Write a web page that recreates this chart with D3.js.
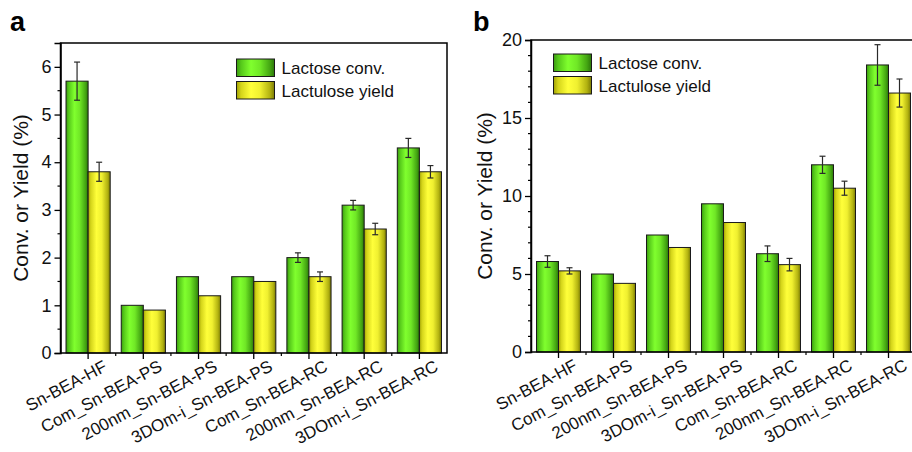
<!DOCTYPE html>
<html>
<head>
<meta charset="utf-8">
<script src="https://cdn.jsdelivr.net/npm/d3@7/dist/d3.min.js"></script>
<style>
  html, body { margin: 0; padding: 0; background: #fff; }
  svg { display: block; font-family: "Liberation Sans", Arial, sans-serif; }
</style>
</head>
<body>
<svg id="chart" width="912" height="452"></svg>
<script>
// Catalysts on the x axis (shared by both panels)
const categories = [
  "Sn-BEA-HF", "Com_Sn-BEA-PS", "200nm_Sn-BEA-PS", "3DOm-i_Sn-BEA-PS",
  "Com_Sn-BEA-RC", "200nm_Sn-BEA-RC", "3DOm-i_Sn-BEA-RC"
];
const seriesNames = ["Lactose conv.", "Lactulose yield"];

// Panel a values (%)
const convA = [5.7, 1.0, 1.6, 1.6, 2.0, 3.1, 4.3];
const yieldA = [3.8, 0.9, 1.2, 1.5, 1.6, 2.6, 3.8];
const convAErr = [0.4, 0, 0, 0, 0.1, 0.1, 0.2];
const yieldAErr = [0.2, 0, 0, 0, 0.1, 0.12, 0.13];
const yTicksA = [0, 1, 2, 3, 4, 5, 6];

// Panel b values (%)
const convB = [5.8, 5.0, 7.5, 9.5, 6.3, 12.0, 18.4];
const yieldB = [5.2, 4.4, 6.7, 8.3, 5.6, 10.5, 16.6];
const convBErr = [0.37, 0, 0, 0, 0.5, 0.55, 1.3];
const yieldBErr = [0.2, 0, 0, 0, 0.4, 0.45, 0.9];
const yTicksB = [0, 5, 10, 15, 20];

const svg = d3.select("#chart");
const defs = svg.append("defs");

// Horizontal shaded fills for the bars
function addGradient(id, stops) {
  const g = defs.append("linearGradient").attr("id", id)
    .attr("x1", "0%").attr("x2", "100%").attr("y1", "0%").attr("y2", "0%");
  stops.forEach(s => g.append("stop").attr("offset", s[0]).attr("stop-color", s[1]));
}
addGradient("gGreen", [["0%", "#3a9a10"], ["12%", "#55c81a"], ["38%", "#80ff2e"], ["62%", "#70e826"], ["88%", "#44a612"], ["100%", "#2c760a"]]);
addGradient("gYellow", [["0%", "#a0a004"], ["12%", "#d4d41a"], ["38%", "#ffff3a"], ["62%", "#f0f030"], ["88%", "#b2b210"], ["100%", "#7a7a04"]]);
const fills = ["url(#gGreen)", "url(#gYellow)"];

function drawPanel(opt) {
  const g = svg.append("g");
  const x = d3.scaleBand().domain(categories)
    .range([opt.left, opt.right]).paddingInner(0.2).paddingOuter(0.1);
  const xs = d3.scaleBand().domain(seriesNames).range([0, x.bandwidth()]);
  const y = d3.scaleLinear().domain(opt.yDomain).range([opt.bottom, opt.top]);
  const step = x.step();

  // bars
  const values = [opt.conv, opt.yld];
  const errs = [opt.convErr, opt.yldErr];
  seriesNames.forEach((s, si) => {
    g.append("g").selectAll("rect").data(categories).join("rect")
      .attr("x", d => x(d) + xs(s))
      .attr("y", (d, i) => y(values[si][i]))
      .attr("width", xs.bandwidth())
      .attr("height", (d, i) => y(0) - y(values[si][i]))
      .attr("fill", fills[si])
      .attr("stroke", "#1a1a1a").attr("stroke-width", 1);
  });

  // error bars
  seriesNames.forEach((s, si) => {
    categories.forEach((c, i) => {
      const e = errs[si][i];
      if (!e) return;
      const cx = x(c) + xs(s) + xs.bandwidth() / 2;
      const v = values[si][i];
      const eg = g.append("g").attr("stroke", "#2a2a2a").attr("stroke-width", 1.2);
      eg.append("line").attr("x1", cx).attr("x2", cx).attr("y1", y(v + e)).attr("y2", y(v - e));
      eg.append("line").attr("x1", cx - 3).attr("x2", cx + 3).attr("y1", y(v + e)).attr("y2", y(v + e));
      eg.append("line").attr("x1", cx - 3).attr("x2", cx + 3).attr("y1", y(v - e)).attr("y2", y(v - e));
    });
  });

  // frame
  g.append("rect").attr("x", opt.left).attr("y", opt.top)
    .attr("width", opt.right - opt.left).attr("height", opt.bottom - opt.top)
    .attr("fill", "none").attr("stroke", "#000").attr("stroke-width", 1.5);

  // y axis
  const yAxis = d3.axisLeft(y).tickValues(opt.yTicks).tickSize(6).tickPadding(3).tickFormat(d3.format("d"));
  const ya = g.append("g").attr("transform", `translate(${opt.left},0)`).call(yAxis);
  ya.select(".domain").attr("stroke-width", 1.5);
  ya.selectAll(".tick line").attr("stroke-width", 1.3);
  ya.selectAll(".tick text").attr("font-size", 18).attr("fill", "#111")
    .attr("font-family", "'Liberation Sans', Arial, sans-serif");
  const minor = d3.range(opt.yDomain[0], opt.yDomain[1], opt.minorStep)
    .filter(v => !opt.yTicks.some(t => Math.abs(t - v) < 1e-9));
  g.append("g").selectAll("line").data(minor).join("line")
    .attr("x1", opt.left - 3).attr("x2", opt.left)
    .attr("y1", d => y(d)).attr("y2", d => y(d))
    .attr("stroke", "#000").attr("stroke-width", 1.2);

  // x axis
  const xa = g.append("g").attr("transform", `translate(0,${opt.bottom})`)
    .call(d3.axisBottom(x).tickSize(6).tickFormat(""));
  xa.select(".domain").remove();
  xa.selectAll(".tick line").attr("stroke-width", 1.3);
  const bounds = categories.slice(0, -1).map(c => x(c) + x.bandwidth() + (step - x.bandwidth()) / 2);
  g.append("g").selectAll("line").data(bounds).join("line")
    .attr("x1", d => d).attr("x2", d => d)
    .attr("y1", opt.bottom).attr("y2", opt.bottom + 3)
    .attr("stroke", "#000").attr("stroke-width", 1.2);
  g.append("g").selectAll("text").data(categories).join("text")
    .attr("transform", d => `translate(${x(d) + x.bandwidth() / 2 + 20},${opt.bottom + 17}) rotate(-28)`)
    .attr("text-anchor", "end")
    .attr("font-size", 17).attr("fill", "#111")
    .text(d => d);

  // y title
  g.append("text")
    .attr("transform", `translate(${opt.titleX},${(opt.top + opt.bottom) / 2}) rotate(-90)`)
    .attr("text-anchor", "middle").attr("font-size", 21).attr("fill", "#111")
    .text("Conv. or Yield (%)");

  // panel letter
  g.append("text").attr("x", opt.letterX).attr("y", 31)
    .attr("font-size", 27).attr("font-weight", "bold").attr("fill", "#000")
    .text(opt.letter);

  // legend
  const lg = g.append("g").attr("transform", `translate(${opt.legX},${opt.legY})`);
  seriesNames.forEach((s, si) => {
    lg.append("rect").attr("x", 0).attr("y", si * 22.5)
      .attr("width", 38).attr("height", 17.5)
      .attr("fill", fills[si]).attr("stroke", "#1a1a1a").attr("stroke-width", 1);
    lg.append("text").attr("x", 45).attr("y", si * 22.5 + 15)
      .attr("font-size", 17).attr("fill", "#111").text(s);
  });
}

drawPanel({
  letter: "a", letterX: 10,
  left: 60.5, right: 447, top: 43, bottom: 353,
  yDomain: [0, 6.5], yTicks: yTicksA, minorStep: 0.5,
  conv: convA, yld: yieldA, convErr: convAErr, yldErr: yieldAErr,
  titleX: 28, legX: 236.5, legY: 59
});

drawPanel({
  letter: "b", letterX: 473,
  left: 531, right: 916, top: 40, bottom: 352,
  yDomain: [0, 20], yTicks: yTicksB, minorStep: 1,
  conv: convB, yld: yieldB, convErr: convBErr, yldErr: yieldBErr,
  titleX: 492, legX: 553.5, legY: 54
});
</script>
</body>
</html>
